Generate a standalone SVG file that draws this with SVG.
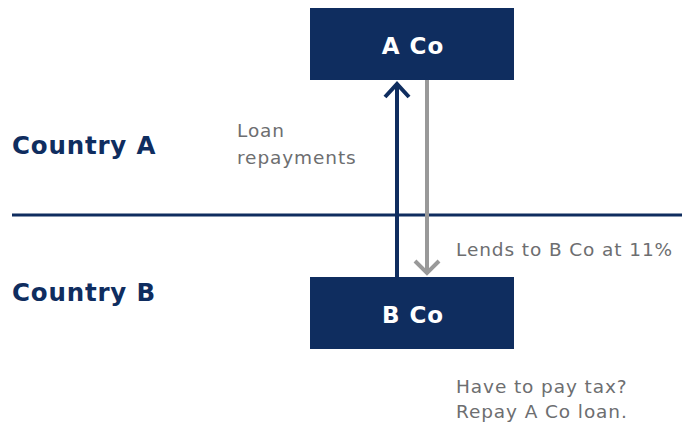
<svg xmlns="http://www.w3.org/2000/svg" width="682" height="427" viewBox="0 0 682 427">
<style>
.box{fill:#0f2d5f}
.nl{font-family:"DejaVu Sans",Inter,sans-serif;font-weight:700;font-size:23px;letter-spacing:1px;fill:#fff;text-anchor:middle}
.cty{font-family:"DejaVu Sans",Inter,sans-serif;font-weight:700;font-size:24.5px;letter-spacing:0.8px;fill:#0f2d5f}
.lbl{font-family:"DejaVu Sans",Inter,sans-serif;font-size:18.5px;letter-spacing:0.9px;fill:#6d6e70}
</style>
<rect width="682" height="427" fill="#fff"/>
<g id="divider"><line x1="12" y1="215" x2="682" y2="215" stroke="#0f2d5f" stroke-width="3"/></g>
<g id="country-a"><text class="cty" x="12" y="154">Country A</text></g>
<g id="country-b"><text class="cty" x="12" y="301">Country B</text></g>
<g id="a-co"><rect class="box" x="310" y="8" width="204" height="72"/><text class="nl" x="413" y="54">A Co</text></g>
<g id="b-co"><rect class="box" x="310" y="277" width="204" height="72"/><text class="nl" x="413" y="323">B Co</text></g>
<g id="connectors" fill="none" stroke-width="4">
<line x1="397" y1="277" x2="397" y2="83" stroke="#0f2d5f"/>
<polyline points="385,97 397,84 409,97" stroke="#0f2d5f"/>
<line x1="427" y1="80" x2="427" y2="274" stroke="#999"/>
<polyline points="415,261 427,273 439,261" stroke="#999"/>
</g>
<g id="labels">
<text class="lbl" x="237" y="137">Loan</text>
<text class="lbl" x="237" y="164">repayments</text>
<text class="lbl" x="456" y="256">Lends to B Co at 11%</text>
<text class="lbl" x="456" y="393">Have to pay tax?</text>
<text class="lbl" x="456" y="418">Repay A Co loan.</text>
</g>
</svg>
